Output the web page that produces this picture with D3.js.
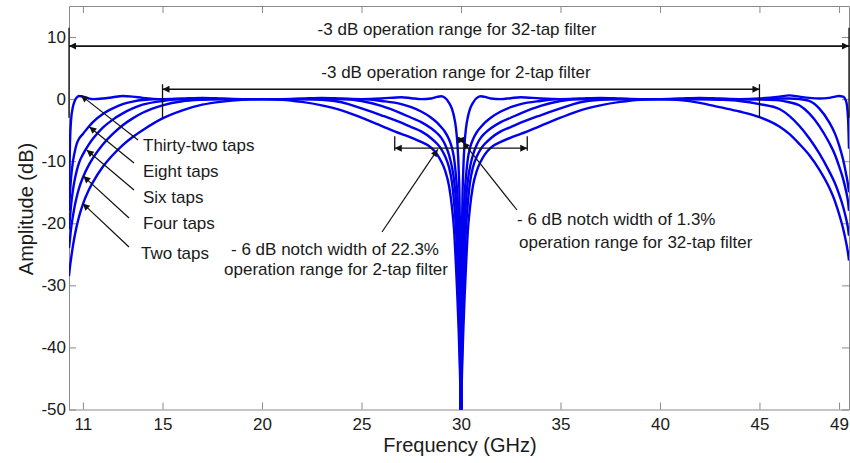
<!DOCTYPE html>
<html>
<head>
<meta charset="utf-8">
<script src="https://cdn.jsdelivr.net/npm/d3@7"></script>
<style>
  body { margin: 0; background: #fff; }
  svg { display: block; font-family: Arial, "Liberation Sans", sans-serif; }
</style>
</head>
<body>
<div id="chart"></div>
<script>
// Frequency grid (GHz) and amplitudes (dB)
var freqGHz = [10.3, 10.35, 10.4, 10.5, 10.6, 10.7, 10.8, 11, 11.3, 11.5,
  12, 12.5, 13, 13.5, 14, 15, 16, 17, 18, 19,
  20, 21, 22, 23, 24, 25, 26, 27, 27.5, 28,
  28.5, 28.8, 29, 29.2, 29.4, 29.55, 29.65, 29.75, 29.82, 29.88,
  29.93, 29.97, 30, 30.03, 30.07, 30.12, 30.18, 30.25, 30.35, 30.45,
  30.6, 30.8, 31, 31.2, 31.5, 32, 32.5, 33, 34, 35,
  36, 37, 38, 39, 40, 41, 42, 43, 44, 45,
  46, 46.5, 47, 47.5, 48, 48.5, 48.8, 49, 49.2, 49.35,
  49.45, 49.5];

var twoTaps = [-28.5, -27, -25.8, -23.6, -21.8, -20.3, -19.0, -16.9, -14.6, -13.4,
  -10.9, -9.0, -7.4, -6.1, -5.0, -3.1, -1.8, -0.9, -0.4, -0.1,
  0, -0.1, -0.45, -1.0, -1.8, -3.0, -4.3, -5.6, -6.2, -6.9,
  -7.8, -8.9, -10, -11.5, -14, -17.5, -21, -27, -32, -37,
  -42, -48, -60, -48, -42, -37, -32, -27, -21, -17.5,
  -14, -11.5, -10, -8.9, -7.8, -6.9, -6.2, -5.6, -4.3, -3.0,
  -1.8, -1.0, -0.45, -0.1, 0, -0.15, -0.6, -1.3, -2.0, -2.9,
  -4.4, -5.6, -7.2, -9.0, -11.3, -14.2, -16.5, -18.5, -20.8, -23,
  -24.8, -26];

var fourTaps = [-24, -22.5, -21, -18.8, -17, -15.6, -14.4, -12.6, -10.6, -9.5,
  -7.3, -5.6, -4.2, -3.1, -2.2, -1.0, -0.35, -0.1, 0, 0,
  0, 0, 0, -0.1, -0.5, -1.5, -2.6, -3.8, -4.5, -5.2,
  -6.3, -7.2, -8.0, -9.2, -11, -13.5, -16.5, -21, -26, -32,
  -39, -46, -60, -46, -39, -32, -26, -21, -16.5, -13.5,
  -11, -9.2, -8.0, -7.2, -6.3, -5.2, -4.5, -3.8, -2.6, -1.5,
  -0.5, -0.1, 0, 0, 0, 0, 0, -0.1, -0.3, -0.8,
  -1.6, -2.7, -4.3, -6.3, -8.7, -11.6, -13.6, -15.3, -17.3, -19.2,
  -20.8, -22];

var sixTaps = [-21, -19, -17.2, -14.6, -12.8, -11.4, -10.3, -8.9, -7.3, -6.4,
  -4.6, -3.3, -2.3, -1.5, -0.9, -0.3, 0, 0, 0, 0,
  0, 0, 0, 0, 0, -0.3, -1.1, -2.3, -3.0, -3.7,
  -4.7, -5.5, -6.2, -7.3, -9, -11, -13, -16.5, -21, -27,
  -35, -44, -60, -44, -35, -27, -21, -16.5, -13, -11,
  -9, -7.3, -6.2, -5.5, -4.7, -3.7, -3.0, -2.3, -1.1, -0.3,
  0, 0, 0, 0, 0, 0, 0, 0, 0, -0.05,
  -0.2, -0.5, -1.0, -2.3, -4.3, -7.0, -9.0, -10.8, -12.8, -14.8,
  -16.5, -18];

var eightTaps = [-18, -15, -12.8, -10, -8.3, -7.1, -6.4, -5.6, -4.4, -3.7,
  -2.4, -1.5, -0.8, -0.4, -0.15, 0, 0, 0, 0, 0,
  0, 0, 0, 0, 0, 0, -0.3, -0.8, -1.3, -2.0,
  -3.0, -3.8, -4.5, -5.3, -6.5, -7.9, -9.5, -12.5, -15.5, -20,
  -28, -38, -60, -38, -28, -20, -15.5, -12.5, -9.5, -7.9,
  -6.5, -5.3, -4.5, -3.8, -3.0, -2.0, -1.3, -0.8, -0.3, 0,
  0, 0, 0, 0, 0, 0, 0, 0, 0, 0,
  0.1, 0.1, 0, -0.3, -1.5, -3.7, -5.6, -7.4, -9.7, -12,
  -13.8, -15];

var thirtyTwoTaps = [-16, -7, -3.5, -1.2, -0.2, 0.3, 0.5, 0.4, 0.1, 0,
  0.1, 0.3, 0.5, 0.4, 0.2, 0, 0.1, 0.2, 0.1, 0,
  0, 0, 0.1, 0.2, 0.1, 0, 0.1, 0.3, 0.15, 0,
  0.1, 0.35, 0.45, 0.2, -0.6, -1.6, -2.8, -4.7, -7.2, -11,
  -17, -30, -60, -30, -17, -11, -7.2, -4.7, -2.8, -1.6,
  -0.6, 0.2, 0.45, 0.35, 0.1, 0, 0.15, 0.3, 0.1, 0,
  0.1, 0.2, 0.1, 0, 0, 0.1, 0.2, 0.1, 0, 0.1,
  0.4, 0.6, 0.4, 0.2, 0.1, 0.2, 0.4, 0.5, 0.4, -0.3,
  -3, -8];

var xTicks = [11, 15, 20, 25, 30, 35, 40, 45, 49];
var yTicks = [10, 0, -10, -20, -30, -40, -50];

// label text and the point on its curve that the arrow touches (GHz, dB)
var tapLabels = ["Thirty-two taps", "Eight taps", "Six taps", "Four taps", "Two taps"];
var tapArrowTips = [[10.9, 0.6], [11.32, -4.45], [11.19, -8.2], [11.02, -12.4], [10.99, -16.8]];

// Set up the SVG dimensions and margins
var margin = { top: 6, right: 1, bottom: 53.5, left: 69 };
var width = 850 - margin.left - margin.right;
var height = 463 - margin.top - margin.bottom;

var svg = d3.select("#chart")
  .append("svg")
  .attr("width", 850)
  .attr("height", 463);

var defs = svg.append("defs");
defs.append("clipPath").attr("id", "plot-clip")
  .append("rect").attr("width", width).attr("height", height);
defs.append("marker")
  .attr("id", "arrow")
  .attr("viewBox", "0 0 10 10")
  .attr("refX", 10).attr("refY", 5)
  .attr("markerWidth", 9).attr("markerHeight", 7)
  .attr("markerUnits", "userSpaceOnUse")
  .attr("orient", "auto-start-reverse")
  .append("path").attr("d", "M0,0L10,5L0,10z").attr("fill", "#111");

var g = svg.append("g")
  .attr("transform", "translate(" + margin.left + "," + margin.top + ")");

var x = d3.scaleLinear().domain([10.3, 49.5]).range([0, width]);
var y = d3.scaleLinear().domain([-50, 15]).range([height, 0]);

// plain hyphen for negatives, like the original
var plain = function(d) { return String(d); };

// axes: MATLAB style, ticks inside the box
function styleAxis(sel) {
  sel.select(".domain").attr("stroke", "#8a8a8a");
  sel.selectAll(".tick line").attr("stroke", "#8a8a8a");
  sel.selectAll(".tick text").attr("fill", "#1a1a1a").style("font-size", "17px");
}

g.append("g")
  .attr("transform", "translate(0," + height + ")")
  .call(d3.axisBottom(x).tickValues(xTicks).tickFormat(plain)
    .tickSizeInner(-7).tickSizeOuter(0).tickPadding(8))
  .call(styleAxis);
g.append("g")
  .call(d3.axisTop(x).tickValues(xTicks).tickSizeInner(-7).tickSizeOuter(0).tickFormat(""))
  .call(styleAxis);
g.append("g")
  .call(d3.axisLeft(y).tickValues(yTicks).tickFormat(plain)
    .tickSizeInner(-7).tickSizeOuter(0).tickPadding(3))
  .call(styleAxis);
g.append("g")
  .attr("transform", "translate(" + width + ",0)")
  .call(d3.axisRight(y).tickValues(yTicks).tickSizeInner(-7).tickSizeOuter(0).tickFormat(""))
  .call(styleAxis);

// curves
var series = [twoTaps, fourTaps, sixTaps, eightTaps, thirtyTwoTaps];
var line = d3.line()
  .x(function(d, i) { return x(freqGHz[i]); })
  .y(function(d) { return y(d); })
  .curve(d3.curveMonotoneX);

g.append("g")
  .attr("clip-path", "url(#plot-clip)")
  .selectAll("path")
  .data(series)
  .enter().append("path")
  .attr("d", line)
  .attr("fill", "none")
  .attr("stroke", "#0000ee")
  .attr("stroke-width", 2.4)
  .attr("stroke-linejoin", "round");

// annotations
var ann = g.append("g").attr("stroke", "#111").attr("fill", "none");

function rangeArrow(f0, f1, level, tickTop, tickBottom, w) {
  ann.append("line")
    .attr("x1", x(f0)).attr("x2", x(f1))
    .attr("y1", y(level)).attr("y2", y(level))
    .attr("stroke-width", w)
    .attr("marker-start", "url(#arrow)")
    .attr("marker-end", "url(#arrow)");
  [f0, f1].forEach(function(f) {
    ann.append("line")
      .attr("x1", x(f)).attr("x2", x(f))
      .attr("y1", y(tickTop)).attr("y2", y(tickBottom))
      .attr("stroke-width", 1.3);
  });
}

rangeArrow(10.3, 49.5, 8.55, 11.5, -3, 1.8);
rangeArrow(15, 45, 1.6, 2.4, -3, 1.5);
rangeArrow(26.67, 33.33, -7.9, -6, -8.3, 1.3);

ann.append("line")
  .attr("x1", x(29.8)).attr("x2", x(30.2))
  .attr("y1", y(-6.6)).attr("y2", y(-6.6))
  .attr("stroke-width", 1.2)
  .attr("marker-start", "url(#arrow)")
  .attr("marker-end", "url(#arrow)");

function pointer(x0, y0, tip) {
  ann.append("line")
    .attr("x1", x0 - margin.left).attr("y1", y0 - margin.top)
    .attr("x2", x(tip[0])).attr("y2", y(tip[1]))
    .attr("stroke-width", 1.2)
    .attr("marker-end", "url(#arrow)");
}

var tails = [[138, 140], [134, 163], [134, 190], [129, 218], [129, 247]];
tails.forEach(function(t, i) { pointer(t[0], t[1], tapArrowTips[i]); });
pointer(382, 232, [28.83, -8.1]);
pointer(517, 210, [30.1, -6.9]);

// texts
var txt = svg.append("g").attr("fill", "#1a1a1a").style("font-size", "17px");

txt.append("text").attr("x", 457).attr("y", 35).attr("text-anchor", "middle")
  .text("-3 dB operation range for 32-tap filter");
txt.append("text").attr("x", 456).attr("y", 78).attr("text-anchor", "middle")
  .text("-3 dB operation range for 2-tap filter");

var labelY = [151, 177, 203, 229, 259];
tapLabels.forEach(function(l, i) {
  txt.append("text").attr("x", i === 4 ? 141 : 143).attr("y", labelY[i]).text(l);
});

txt.append("text").attr("x", 335).attr("y", 255).attr("text-anchor", "middle")
  .text("- 6 dB notch width of 22.3%");
txt.append("text").attr("x", 336).attr("y", 275).attr("text-anchor", "middle")
  .text("operation range for 2-tap filter");
txt.append("text").attr("x", 517).attr("y", 225)
  .text("- 6 dB notch width of 1.3%");
txt.append("text").attr("x", 519).attr("y", 248)
  .text("operation range for 32-tap filter");

// axis titles
svg.append("text")
  .attr("transform", "translate(33,209) rotate(-90)")
  .attr("text-anchor", "middle")
  .style("font-size", "20px")
  .attr("fill", "#1a1a1a")
  .text("Amplitude (dB)");
svg.append("text")
  .attr("x", 460).attr("y", 452)
  .attr("text-anchor", "middle")
  .style("font-size", "20px")
  .attr("fill", "#1a1a1a")
  .text("Frequency (GHz)");
</script>
</body>
</html>
